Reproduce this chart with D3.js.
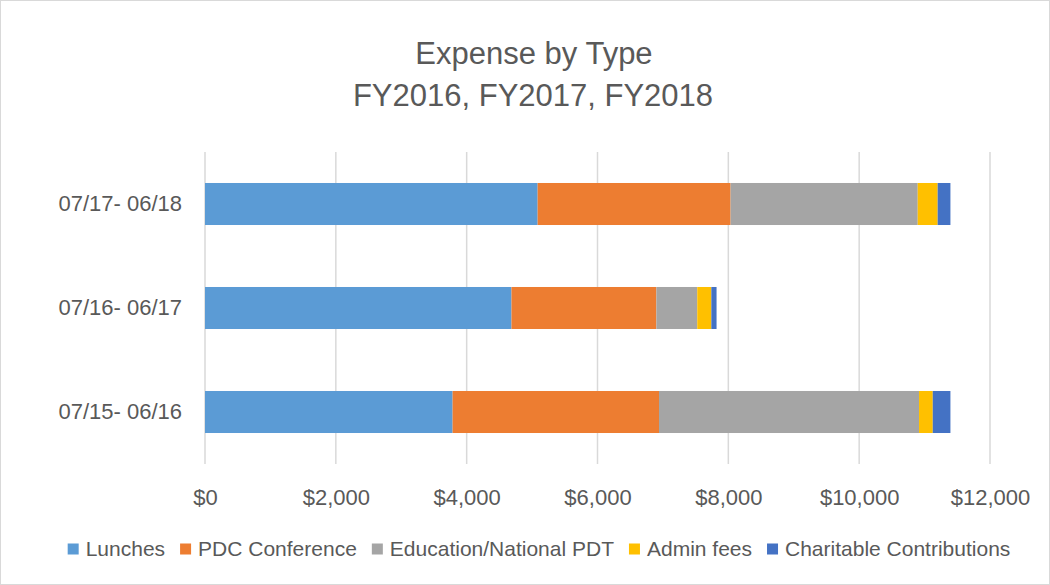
<!DOCTYPE html>
<html>
<head>
<meta charset="utf-8">
<script src="https://cdn.jsdelivr.net/npm/d3@7"></script>
<style>
  body { margin: 0; background: #fff; }
  text { font-family: "Liberation Sans", Arial, sans-serif; fill: #595959; }
</style>
</head>
<body>
<div id="chart"></div>
<script>
// categories top to bottom
const periods = ["07/17- 06/18", "07/16- 06/17", "07/15- 06/16"];
const types = ["Lunches", "PDC Conference", "Education/National PDT", "Admin fees", "Charitable Contributions"];
const colors = ["#5B9BD5", "#ED7D31", "#A5A5A5", "#FFC000", "#4472C4"];

// values per type, same order as periods
const lunches = [5085, 4685, 3785];
const pdcConference = [2950, 2215, 3155];
const education = [2860, 625, 3975];
const adminFees = [305, 215, 210];
const charitable = [195, 80, 270];

const xTicks = [0, 2000, 4000, 6000, 8000, 10000, 12000];

const width = 1050, height = 585;
const margin = {top: 152, right: 60, bottom: 121, left: 205};

const rows = periods.map((p, i) => ({
  period: p,
  "Lunches": lunches[i],
  "PDC Conference": pdcConference[i],
  "Education/National PDT": education[i],
  "Admin fees": adminFees[i],
  "Charitable Contributions": charitable[i]
}));

const svg = d3.select("#chart").append("svg")
  .attr("width", width)
  .attr("height", height);

// chart frame
svg.append("rect")
  .attr("x", 0.5).attr("y", 0.5)
  .attr("width", width - 1).attr("height", height - 1)
  .attr("fill", "#fff")
  .attr("stroke", "#d9d9d9");

const x = d3.scaleLinear()
  .domain([0, 12000])
  .range([margin.left, width - margin.right]);

const y = d3.scaleBand()
  .domain(periods)
  .range([margin.top, height - margin.bottom])
  .paddingInner(0.596)
  .paddingOuter(0.298);

// title
svg.append("text")
  .attr("x", 534).attr("y", 64)
  .attr("text-anchor", "middle")
  .attr("font-size", 31)
  .text("Expense by Type");
svg.append("text")
  .attr("x", 533).attr("y", 106)
  .attr("text-anchor", "middle")
  .attr("font-size", 31)
  .text("FY2016, FY2017, FY2018");

// gridlines
svg.append("g")
  .selectAll("line")
  .data(xTicks)
  .join("line")
  .attr("x1", d => x(d)).attr("x2", d => x(d))
  .attr("y1", margin.top).attr("y2", height - margin.bottom)
  .attr("stroke", "#d9d9d9")
  .attr("stroke-width", 1.5);

// stacked bars
const stack = d3.stack().keys(types)(rows);

svg.append("g")
  .selectAll("g")
  .data(stack)
  .join("g")
  .attr("fill", (d, i) => colors[i])
  .selectAll("rect")
  .data(d => d)
  .join("rect")
  .attr("x", d => x(d[0]))
  .attr("y", d => y(d.data.period))
  .attr("width", d => x(d[1]) - x(d[0]))
  .attr("height", y.bandwidth());

// x axis labels
const xAxis = svg.append("g")
  .attr("transform", `translate(0, ${height - margin.bottom})`)
  .call(d3.axisBottom(x).tickValues(xTicks).tickSize(0).tickPadding(25)
    .tickFormat(d => "$" + d3.format(",")(d)));
xAxis.select(".domain").remove();
xAxis.selectAll("text").attr("font-size", 22).attr("fill", "#595959")
  .style("font-family", "'Liberation Sans', Arial, sans-serif");

// y axis labels
const yAxis = svg.append("g")
  .attr("transform", `translate(${margin.left}, 0)`)
  .call(d3.axisLeft(y).tickSize(0).tickPadding(23));
yAxis.select(".domain").remove();
yAxis.selectAll("text").attr("font-size", 22).attr("fill", "#595959")
  .style("font-family", "'Liberation Sans', Arial, sans-serif");

// legend
const legend = svg.append("g");
let lx = 0;
types.forEach((t, i) => {
  const g = legend.append("g").attr("transform", `translate(${lx}, 0)`);
  g.append("rect")
    .attr("x", 0).attr("y", -5.5)
    .attr("width", 11).attr("height", 11)
    .attr("fill", colors[i]);
  const txt = g.append("text")
    .attr("x", 18).attr("y", 0)
    .attr("dy", "0.35em")
    .attr("font-size", 21)
    .text(t);
  lx += 18 + txt.node().getComputedTextLength() + 15;
});
const legendWidth = lx - 15;
legend.attr("transform", `translate(${539 - legendWidth / 2}, 549)`);
</script>
</body>
</html>
